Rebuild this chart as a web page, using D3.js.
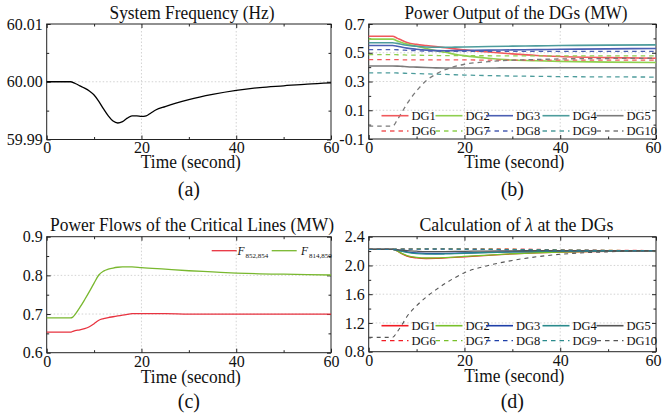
<!DOCTYPE html>
<html><head><meta charset="utf-8">
<script src="https://cdn.jsdelivr.net/npm/d3@7"></script>
<style>
body{margin:0;background:#fff;}
svg{display:block;}
text{font-family:"Liberation Serif","Times New Roman",serif;fill:#111;font-weight:normal;}
</style></head>
<body><svg id="c" width="662" height="420"></svg>
<script>
// ---------- DATA ----------
const xTicks = [0, 20, 40, 60];
const xMinorTicks = [10, 30, 50];

// (a) System frequency
const tA = [0,5,6,7,8,9,10,11,12,13,14,15,16,17,18,19,20,21,22,23,25,30,35,40,45,50,55,60];
const freq = [60.0000,60.0000,59.9997,59.9993,59.9989,59.9984,59.9977,59.9966,59.9953,59.9941,59.9932,59.99286,59.9931,59.9937,59.9941,59.9941,59.9940,59.9941,59.9946,59.9951,59.9957,59.9969,59.9978,59.9985,59.9990,59.9993,59.9996,59.9998];
const yTicksA = [59.99, 60.00, 60.01];
const yMinorA = [59.995, 60.005];

// (b) Power output of DGs, (d) lambda at DGs  (common time grid)
const tB = [0,5,6,7,8,10,12,14,16,18,20,25,30,35,40,50,60];
const dgNames = ["DG1","DG2","DG3","DG4","DG5","DG6","DG7","DG8","DG9","DG10"];
const pDG1 = [0.615,0.615,0.600,0.585,0.572,0.558,0.550,0.543,0.535,0.527,0.520,0.505,0.492,0.481,0.474,0.466,0.462];
const pDG2 = [0.595,0.595,0.582,0.570,0.560,0.545,0.530,0.515,0.503,0.490,0.480,0.462,0.450,0.444,0.440,0.435,0.432];
const pDG3 = [0.550,0.550,0.545,0.538,0.532,0.524,0.518,0.515,0.514,0.515,0.516,0.518,0.520,0.522,0.524,0.527,0.530];
const pDG4 = [0.570,0.570,0.565,0.558,0.552,0.545,0.540,0.538,0.538,0.539,0.540,0.543,0.546,0.548,0.550,0.553,0.555];
const pDG5 = [0.408,0.408,0.407,0.405,0.403,0.400,0.397,0.395,0.394,0.394,0.394,0.394,0.395,0.395,0.396,0.396,0.396];
const pDG6 = [0.452,0.452,0.452,0.451,0.451,0.450,0.450,0.450,0.450,0.450,0.450,0.449,0.449,0.449,0.449,0.449,0.449];
const pDG7 = [0.487,0.487,0.486,0.485,0.484,0.483,0.482,0.481,0.480,0.480,0.479,0.479,0.478,0.478,0.478,0.478,0.478];
const pDG8 = [0.522,0.522,0.521,0.519,0.517,0.514,0.512,0.511,0.510,0.510,0.510,0.509,0.509,0.509,0.509,0.509,0.509];
const pDG9 = [0.360,0.360,0.359,0.358,0.357,0.355,0.353,0.351,0.349,0.347,0.345,0.341,0.338,0.336,0.334,0.332,0.331];
const pDG10 = [-0.010,-0.010,0.035,0.090,0.145,0.235,0.305,0.350,0.383,0.405,0.420,0.438,0.448,0.453,0.457,0.460,0.462];
const yTicksB = [-0.1, 0.1, 0.3, 0.5, 0.7];
const yMinorB = [0, 0.2, 0.4, 0.6];

const lDG1 = [2.225,2.225,2.200,2.160,2.130,2.105,2.097,2.098,2.105,2.113,2.120,2.140,2.160,2.175,2.185,2.197,2.203];
const lDG2 = [2.225,2.225,2.200,2.165,2.138,2.112,2.104,2.105,2.110,2.117,2.125,2.145,2.163,2.177,2.187,2.198,2.204];
const lDG3 = [2.225,2.225,2.215,2.200,2.190,2.175,2.168,2.166,2.167,2.170,2.173,2.182,2.190,2.196,2.200,2.204,2.206];
const lDG4 = [2.225,2.225,2.212,2.195,2.182,2.165,2.158,2.157,2.160,2.165,2.170,2.180,2.188,2.194,2.198,2.203,2.205];
const lDG5 = [2.225,2.225,2.220,2.212,2.205,2.198,2.193,2.192,2.193,2.195,2.197,2.200,2.203,2.205,2.206,2.207,2.207];
const lDG6 = [2.228,2.228,2.229,2.230,2.231,2.232,2.233,2.233,2.233,2.233,2.233,2.232,2.230,2.225,2.218,2.212,2.208];
const lDG7 = [2.226,2.226,2.227,2.228,2.229,2.230,2.230,2.230,2.230,2.230,2.229,2.227,2.224,2.220,2.216,2.210,2.207];
const lDG8 = [2.224,2.224,2.224,2.225,2.226,2.226,2.227,2.227,2.227,2.226,2.225,2.222,2.219,2.215,2.212,2.208,2.206];
const lDG9 = [2.226,2.226,2.227,2.228,2.228,2.229,2.229,2.229,2.229,2.228,2.227,2.224,2.221,2.217,2.213,2.209,2.207];
const lDG10 = [1.000,1.000,1.080,1.180,1.290,1.440,1.560,1.660,1.750,1.830,1.900,2.000,2.070,2.120,2.155,2.190,2.205];
const yTicksD = [0.8, 1.2, 1.6, 2.0, 2.4];
const yMinorD = [1.0, 1.4, 1.8, 2.2];

// (c) Power flows of critical lines
const tC = [0,5,5.5,6,7,8,9,10,11,12,13,14,15,16,17,18,20,25,30,35,40,45,50,55,60];
const f852 = [0.653,0.653,0.655,0.657,0.659,0.662,0.667,0.675,0.684,0.688,0.691,0.693,0.695,0.697,0.699,0.701,0.701,0.701,0.700,0.700,0.700,0.700,0.700,0.700,0.700];
const f814 = [0.690,0.690,0.692,0.699,0.717,0.737,0.758,0.780,0.801,0.811,0.816,0.819,0.821,0.822,0.822,0.822,0.820,0.816,0.812,0.809,0.806,0.804,0.803,0.802,0.801];
const yTicksC = [0.6, 0.7, 0.8, 0.9];
const yMinorC = [0.65, 0.75, 0.85];

// ---------- STYLE ----------
const colB = ["#f0595c","#8fcf4f","#4b5fb3","#4d9c9c","#7a7a7a"];
const colD = ["#f21c24","#78c02a","#1e3fa8","#2a8a8c","#555555"];
const FONT = '"Liberation Serif","Times New Roman",serif';

const svg = d3.select("#c");

function panel(o){
  const x = d3.scaleLinear().domain([0,60]).range([o.x0,o.x1]);
  const y = d3.scaleLinear().domain(o.yDom).range([o.y1,o.y0]);
  const g = svg.append("g");
  // grid
  const gx = xTicks.filter(v=>v>0&&v<60);
  g.selectAll(".gv").data(gx).join("line")
    .attr("x1",d=>x(d)).attr("x2",d=>x(d)).attr("y1",o.y0).attr("y2",o.y1)
    .attr("stroke","#c8c8c8").attr("stroke-width",0.8).attr("stroke-dasharray","1.5,2");
  const gy = o.yMajor.filter(v=>v>o.yDom[0]+1e-9&&v<o.yDom[1]-1e-9);
  g.selectAll(".gh").data(gy).join("line")
    .attr("y1",d=>y(d)).attr("y2",d=>y(d)).attr("x1",o.x0).attr("x2",o.x1)
    .attr("stroke","#c8c8c8").attr("stroke-width",0.8).attr("stroke-dasharray","1.5,2");
  // axes
  const axB = g.append("g").attr("transform",`translate(0,${o.y1})`)
    .call(d3.axisBottom(x).tickValues(xTicks).tickSize(-4).tickPadding(2.5).tickFormat(d3.format("d")));
  const axBm = g.append("g").attr("transform",`translate(0,${o.y1})`)
    .call(d3.axisBottom(x).tickValues(xMinorTicks).tickSize(-2.5).tickFormat(""));
  const axT = g.append("g").attr("transform",`translate(0,${o.y0})`)
    .call(d3.axisTop(x).tickValues(xTicks).tickSize(-4).tickFormat(""));
  const axTm = g.append("g").attr("transform",`translate(0,${o.y0})`)
    .call(d3.axisTop(x).tickValues(xMinorTicks).tickSize(-2.5).tickFormat(""));
  const axL = g.append("g").attr("transform",`translate(${o.x0},0)`)
    .call(d3.axisLeft(y).tickValues(o.yMajor).tickSize(-4).tickPadding(4).tickFormat(o.fmt));
  const axLm = g.append("g").attr("transform",`translate(${o.x0},0)`)
    .call(d3.axisLeft(y).tickValues(o.yMinor).tickSize(-2.5).tickFormat(""));
  const axR = g.append("g").attr("transform",`translate(${o.x1},0)`)
    .call(d3.axisRight(y).tickValues(o.yMajor).tickSize(-4).tickFormat(""));
  const axRm = g.append("g").attr("transform",`translate(${o.x1},0)`)
    .call(d3.axisRight(y).tickValues(o.yMinor).tickSize(-2.5).tickFormat(""));
  [axB,axBm,axT,axTm,axL,axLm,axR,axRm].forEach(a=>{
    a.attr("font-family",FONT);
    a.select(".domain").remove();
    a.selectAll("line").attr("stroke","#222");
    a.selectAll("text").style("font-family",FONT).attr("font-size",16).attr("fill","#111");
  });
  if(o.lastDx) axB.selectAll("text").filter(d=>d===60).attr("dx",o.lastDx);
  // frame
  g.append("rect").attr("x",o.x0).attr("y",o.y0).attr("width",o.x1-o.x0).attr("height",o.y1-o.y0)
    .attr("fill","none").attr("stroke","#222").attr("stroke-width",1);
  // title
  g.append("text").attr("x",o.titleX).attr("y",o.y0-5.5).attr("text-anchor","middle")
    .attr("font-size",18).attr("textLength",o.titleW).attr("lengthAdjust","spacingAndGlyphs")
    .call(o.title);
  // x label
  g.append("text").attr("x",(o.x0+o.x1)/2+2).attr("y",o.y1+o.xlabDy).attr("text-anchor","middle")
    .attr("font-size",19).attr("textLength",100).attr("lengthAdjust","spacingAndGlyphs")
    .text("Time (second)");
  // panel label
  g.append("text").attr("x",(o.x0+o.x1)/2).attr("y",o.y1+o.labDy).attr("text-anchor","middle")
    .attr("font-size",20).text(o.label);
  return {x,y,g};
}
const fmt2 = d=>d.toFixed(2), fmt1 = d=>d.toFixed(1);

// ---------- (a) ----------
const A = panel({x0:46.7,x1:331,y0:24,y1:139.5,yDom:[59.99,60.01],yMajor:yTicksA,yMinor:yMinorA,fmt:fmt2,
  titleX:192,titleW:165,title:t=>t.text("System Frequency (Hz)"),xlabDy:28.5,labDy:56,label:"(a)"});
A.g.append("path").datum(tA.map((t,i)=>[t,freq[i]]))
  .attr("fill","none").attr("stroke","#000").attr("stroke-width",1.3)
  .attr("d",d3.line().x(d=>A.x(d[0])).y(d=>A.y(d[1])).curve(d3.curveMonotoneX));

// ---------- (b) ----------
const B = panel({x0:368.7,x1:656,y0:24,y1:139,yDom:[-0.1,0.7],yMajor:yTicksB,yMinor:yMinorB,fmt:fmt1,
  titleX:516,titleW:223,title:t=>t.text("Power Output of the DGs (MW)"),xlabDy:29,labDy:56.5,label:"(b)",lastDx:-3});
const seriesB = [pDG1,pDG2,pDG3,pDG4,pDG5,pDG6,pDG7,pDG8,pDG9,pDG10];
const lineB = d3.line().x((d,i)=>B.x(tB[i])).y(d=>B.y(d)).curve(d3.curveMonotoneX);
seriesB.forEach((s,k)=>{
  B.g.append("path").datum(s).attr("fill","none")
    .attr("stroke",colB[k%5]).attr("stroke-width",k<5?1.6:1.3)
    .attr("stroke-dasharray",k<5?null:"4.5,4")
    .attr("d",lineB);
});

// ---------- (c) ----------
const C = panel({x0:46.7,x1:331,y0:236.7,y1:352.7,yDom:[0.6,0.9],yMajor:yTicksC,yMinor:yMinorC,fmt:fmt1,
  titleX:192,titleW:284,title:t=>t.text("Power Flows of the Critical Lines (MW)"),xlabDy:30,labDy:55,label:"(c)"});
const lineC = (ts)=>d3.line().x((d,i)=>C.x(ts[i])).y(d=>C.y(d)).curve(d3.curveMonotoneX);
C.g.append("path").datum(f852).attr("fill","none").attr("stroke","#e8323f").attr("stroke-width",1.3).attr("d",lineC(tC));
C.g.append("path").datum(f814).attr("fill","none").attr("stroke","#79b82f").attr("stroke-width",1.3).attr("d",lineC(tC));
// legend (c)
const legC = [{c:"#e8323f",sub:"852,854",lx:211.7,tx:237.5},{c:"#79b82f",sub:"814,850",lx:271.7,tx:301}];
legC.forEach(l=>{
  C.g.append("line").attr("x1",l.lx).attr("x2",l.lx+25).attr("y1",250.7).attr("y2",250.7)
    .attr("stroke",l.c).attr("stroke-width",1.3);
  const t = C.g.append("text").attr("x",l.tx).attr("y",254.5).attr("font-size",11.5);
  t.append("tspan").attr("font-style","italic").text("F");
  t.append("tspan").attr("font-size",7).attr("dy",3).attr("dx",1).text(l.sub);
});

// ---------- (d) ----------
const D = panel({x0:368.7,x1:656,y0:236.7,y1:351.7,yDom:[0.8,2.4],yMajor:yTicksD,yMinor:yMinorD,fmt:fmt1,
  titleX:516.5,titleW:194,title:t=>{t.append("tspan").text("Calculation of ");t.append("tspan").attr("font-style","italic").text("λ");t.append("tspan").text(" at the DGs");},
  xlabDy:30,labDy:56,label:"(d)",lastDx:-3});
const seriesD = [lDG1,lDG2,lDG3,lDG4,lDG5,lDG6,lDG7,lDG8,lDG9,lDG10];
const lineD = d3.line().x((d,i)=>D.x(tB[i])).y(d=>D.y(d)).curve(d3.curveMonotoneX);
seriesD.forEach((s,k)=>{
  D.g.append("path").datum(s).attr("fill","none")
    .attr("stroke",colD[k%5]).attr("stroke-width",k<5?1.3:1.1)
    .attr("stroke-dasharray",k<5?null:"4,4")
    .attr("opacity",k<5||k===9?1:0.8)
    .attr("d",lineD);
});

// ---------- legends (b),(d) ----------
const colTextX = [411.5, 465.5, 516, 572.5, 626.5];
function legend(P, cols, rowY){
  dgNames.forEach((n,k)=>{
    const c = k%5, r = Math.floor(k/5);
    const yy = rowY[r];
    P.g.append("line").attr("x1",colTextX[c]-30).attr("x2",colTextX[c]-3).attr("y1",yy).attr("y2",yy)
      .attr("stroke",cols[c]).attr("stroke-width",r===0?1.6:1.3)
      .attr("stroke-dasharray",r===0?null:"4.5,4");
    P.g.append("text").attr("x",colTextX[c]).attr("y",yy+4).attr("font-size",12.5).attr("fill","#222").text(n);
  });
}
legend(B, colB, [115.7,131]);
legend(D, colD, [325.7,340.7]);
</script></body></html>
